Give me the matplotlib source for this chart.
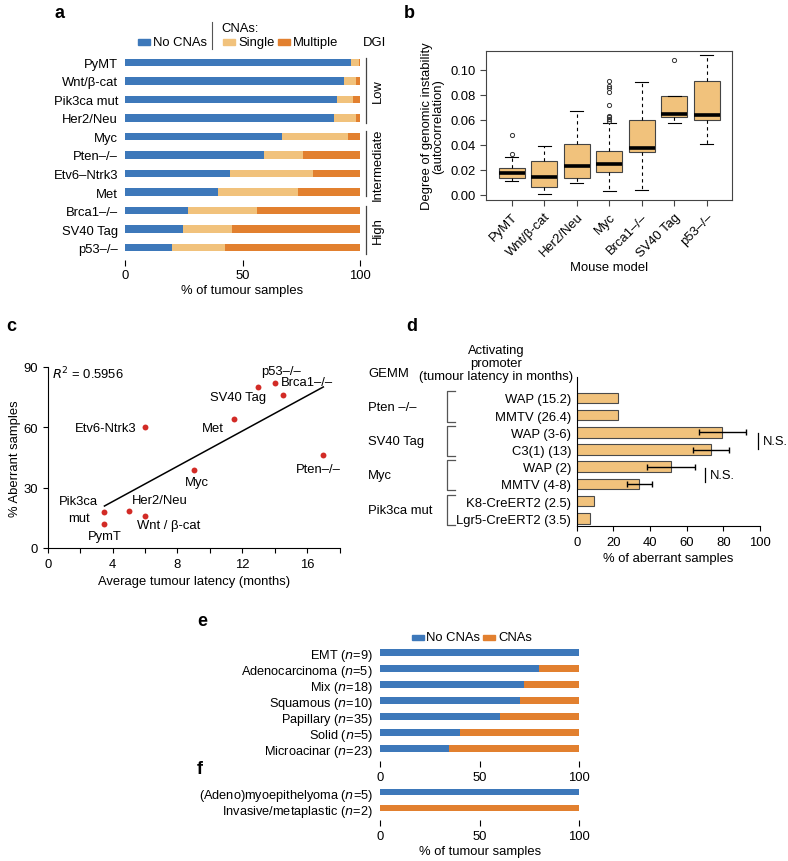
import matplotlib
matplotlib.use("Agg")
import matplotlib.pyplot as plt
import numpy as np
from matplotlib.patches import Rectangle
from matplotlib.lines import Line2D
from matplotlib.transforms import blended_transform_factory

plt.rcParams['font.family'] = ['Liberation Sans', 'DejaVu Sans']
plt.rcParams['font.size'] = 9.4
plt.rcParams['axes.linewidth'] = 0.8

# ---------------- data ----------------
# Panel a
a_models = ["PyMT", "Wnt/β-cat", "Pik3ca mut", "Her2/Neu", "Myc", "Pten–/–",
            "Etv6–Ntrk3", "Met", "Brca1–/–", "SV40 Tag", "p53–/–"]
a_none = [96, 93, 90, 89, 67, 59, 44.5, 39.5, 26.7, 24.8, 20]
a_single = [3.5, 5.3, 6.9, 9.3, 27.8, 16.6, 35.5, 34.3, 29.3, 20.9, 22.6]
a_multiple = [0.5, 1.7, 3.1, 1.7, 5.2, 24.4, 20, 26.2, 44, 54.3, 57.4]
a_ticks = [0, 50, 100]
dgi_groups = ["Low", "Intermediate", "High"]

# Panel b (box statistics: whisker low, q1, median, q3, whisker high, outliers)
b_models = ["PyMT", "Wnt/β-cat", "Her2/Neu", "Myc", "Brca1–/–", "SV40 Tag", "p53–/–"]
b_wlo = [0.011, 0.0003, 0.0097, 0.0027, 0.004, 0.0572, 0.0404]
b_q1 = [0.0137, 0.0062, 0.0137, 0.0182, 0.0338, 0.0626, 0.0599]
b_med = [0.0174, 0.0142, 0.023, 0.0249, 0.0373, 0.0647, 0.0637]
b_q3 = [0.0212, 0.0268, 0.0402, 0.0349, 0.0598, 0.0794, 0.0912]
b_whi = [0.0303, 0.0386, 0.067, 0.0571, 0.0906, 0.0794, 0.1115]
b_out = [[0.0324, 0.048], [], [], [0.0593, 0.0606, 0.062, 0.0633, 0.0718, 0.0826,
                                  0.0855, 0.0869, 0.0914], [], [0.108], []]
b_yticks = [0.00, 0.02, 0.04, 0.06, 0.08, 0.10]

# Panel c
c_names = ["PymT", "Pik3ca\nmut", "Her2/Neu", "Wnt / β-cat", "Etv6-Ntrk3", "Myc",
           "Met", "SV40 Tag", "p53–/–", "Brca1–/–", "Pten–/–"]
c_latency = [3.5, 3.5, 5.0, 6.0, 6.0, 9.0, 11.5, 13.0, 14.0, 14.5, 17.0]
c_aberrant = [12.0, 17.7, 18.5, 16.0, 60.2, 38.8, 64.2, 79.9, 82.0, 75.9, 46.4]

# Panel d
d_promoters = ["WAP (15.2)", "MMTV (26.4)", "WAP (3-6)", "C3(1) (13)", "WAP (2)",
               "MMTV (4-8)", "K8-CreERT2 (2.5)", "Lgr5-CreERT2 (3.5)"]
d_values = [22.7, 22.7, 79.5, 73.3, 51.5, 34.2, 9.5, 7.5]
d_err = [0, 0, 13, 10, 13, 7, 0, 0]
d_gemm = ["Pten –/–", "SV40 Tag", "Myc", "Pik3ca mut"]
d_ticks = [0, 20, 40, 60, 80, 100]

# Panel e
e_types = ["EMT (n=9)", "Adenocarcinoma (n=5)", "Mix (n=18)", "Squamous (n=10)",
           "Papillary (n=35)", "Solid (n=5)", "Microacinar (n=23)"]
e_none = [100, 80, 72.2, 70, 60, 40, 34.8]
e_cna = [0, 20, 27.8, 30, 40, 60, 65.2]

# Panel f
f_types = ["(Adeno)myoepithelyoma (n=5)", "Invasive/metaplastic (n=2)"]
f_none = [100, 0]
f_cna = [0, 100]

# ---------------- style ----------------
BLUE = "#3d78ba"
LIGHT = "#f1c27c"
DARK = "#e2802f"
RED = "#d22b26"
W, H = 788, 862

fig = plt.figure(figsize=(W / 100, H / 100), dpi=100)

def add_ax(l, t, r, b):
    return fig.add_axes([l / W, 1 - b / H, (r - l) / W, (b - t) / H])

# overlay in pixel coordinates for annotations
ov = fig.add_axes([0, 0, 1, 1], zorder=10)
ov.set_xlim(0, W)
ov.set_ylim(H, 0)
ov.axis("off")
ov.patch.set_alpha(0)

def ital_n(label):
    return label.replace("(n=", r"($\it{n}$=")

# ---------------- panel a ----------------
axa = add_ax(125, 54, 360, 258)
ya = np.arange(len(a_models))
none_a = np.array(a_none); single_a = np.array(a_single); mult_a = np.array(a_multiple)
axa.barh(ya, none_a, height=0.4, color=BLUE)
axa.barh(ya, single_a, left=none_a, height=0.4, color=LIGHT)
axa.barh(ya, mult_a, left=none_a + single_a, height=0.4, color=DARK)
axa.set_xlim(0, 100)
axa.set_ylim(len(a_models) - 0.5, -0.5)
axa.set_yticks(ya)
axa.set_yticklabels(a_models)
axa.set_xticks(a_ticks)
for s in axa.spines.values():
    s.set_visible(False)
axa.tick_params(axis="y", length=0, pad=5)
axa.tick_params(axis="x", length=4, width=0.8, pad=3, direction="out")
axa.set_xlabel("% of tumour samples", labelpad=2)
axa.spines["bottom"].set_position(("outward", 2))

# legend a
ov.add_patch(Rectangle((138, 40), 12, 6, color=BLUE))
ov.text(153, 43, "No CNAs", va="center", ha="left")
ov.add_line(Line2D([212, 212], [23, 50], color="#555555", lw=0.8))
ov.text(221, 29, "CNAs:", va="center", ha="left")
ov.add_patch(Rectangle((223, 40), 12, 6, color=LIGHT))
ov.text(238, 43, "Single", va="center", ha="left")
ov.add_patch(Rectangle((278, 40), 12, 6, color=DARK))
ov.text(293, 43, "Multiple", va="center", ha="left")
ov.text(363, 43, "DGI", va="center", ha="left")
for (y0, y1, lab) in [(59, 124, "Low"), (132, 197, "Intermediate"), (207, 255, "High")]:
    ov.add_line(Line2D([366, 366], [y0, y1], color="#444444", lw=0.9))
    ov.text(378, (y0 + y1) / 2, lab, rotation=90, va="center", ha="center")

# ---------------- panel b ----------------
axb = add_ax(486, 52, 732, 201)
stats = []
for i in range(len(b_models)):
    stats.append(dict(med=b_med[i], q1=b_q1[i], q3=b_q3[i], whislo=b_wlo[i],
                      whishi=b_whi[i], fliers=b_out[i], label=b_models[i]))
axb.bxp(stats, positions=np.arange(1, len(b_models) + 1), widths=0.8,
        patch_artist=True, capwidths=0.4,
        boxprops=dict(facecolor=LIGHT, edgecolor="#444444", lw=0.8),
        medianprops=dict(color="black", lw=2.6),
        whiskerprops=dict(color="black", lw=0.8, linestyle=(0, (3, 3))),
        capprops=dict(color="black", lw=0.8),
        flierprops=dict(marker="o", markersize=3.0, markerfacecolor="none",
                        markeredgecolor="#333333", markeredgewidth=0.7))
axb.set_xlim(0.2, 7.78)
axb.set_ylim(-0.0043, 0.1151)
axb.set_yticks(b_yticks)
axb.set_yticklabels([f"{v:.2f}" for v in b_yticks])
axb.set_xticks(np.arange(1, len(b_models) + 1))
axb.set_xticklabels(b_models, rotation=45, ha="right", rotation_mode="anchor")
axb.tick_params(length=4, width=0.8, color="#444444")
for s in axb.spines.values():
    s.set_color("#444444")
axb.set_ylabel("Degree of genomic instability\n(autocorrelation)", labelpad=4,
               linespacing=1.0)
axb.set_xlabel("Mouse model", labelpad=2)

# ---------------- panel c ----------------
axc = add_ax(47.7, 367.7, 339.5, 549)
axc.scatter(c_latency, c_aberrant, s=18, color=RED, zorder=3, linewidths=0)
slope, inter = np.polyfit(c_latency, c_aberrant, 1)
xl = np.array([min(c_latency), max(c_latency)])
axc.plot(xl, slope * xl + inter, color="black", lw=1.1)
axc.set_xlim(0, 18)
axc.set_ylim(0, 90)
axc.set_xticks([0, 4, 8, 12, 16])
axc.set_xticks([2, 6, 10, 14, 18], minor=True)
axc.set_yticks([0, 30, 60, 90])
axc.tick_params(which="both", length=3.5, width=0.8)
axc.spines["top"].set_visible(False)
axc.spines["right"].set_visible(False)
axc.set_xlabel("Average tumour latency (months)", labelpad=4)
axc.set_ylabel("% Aberrant samples", labelpad=2)
c_lab_pos = {
    "PymT": (3.53, 5.9, "center"), "Pik3ca\nmut": (1.9, 19.0, "center"),
    "Her2/Neu": (6.94, 23.8, "center"), "Wnt / β-cat": (7.43, 11.6, "center"),
    "Etv6-Ntrk3": (5.5, 59.4, "right"), "Myc": (9.18, 33.0, "center"),
    "Met": (10.2, 59.4, "center"), "SV40 Tag": (11.75, 75.2, "center"),
    "p53–/–": (14.4, 88.0, "center"), "Brca1–/–": (14.4, 82.2, "left"),
    "Pten–/–": (16.7, 39.3, "center"),
}
for n in c_names:
    x, y, ha = c_lab_pos[n]
    ls = 1.5 if "\n" in n else 1.2
    axc.text(x, y, n, ha=ha, va="center", linespacing=ls, clip_on=False)
axc.text(0.25, 86.8, r"$\it{R}^2$ = 0.5956", ha="left", va="center")

# ---------------- panel d ----------------
axd = add_ax(576.7, 378, 760, 527)
yd = np.arange(len(d_promoters))
axd.barh(yd, d_values, height=0.62, color=LIGHT, edgecolor="#4a4a4a", lw=0.8)
for i in range(len(yd)):
    if d_err[i] > 0:
        axd.errorbar(d_values[i], yd[i], xerr=d_err[i], fmt="none", ecolor="black",
                     elinewidth=1.0, capsize=2.5, capthick=1.0)
axd.set_xlim(0, 100)
axd.set_ylim(len(d_promoters) - 0.55, -1.22)
axd.set_yticks(yd)
axd.set_yticklabels(d_promoters)
axd.set_xticks(d_ticks)
axd.spines["top"].set_visible(False)
axd.spines["right"].set_visible(False)
axd.tick_params(axis="y", length=0, pad=4)
axd.tick_params(axis="x", length=3.5, width=0.8)
axd.set_xlabel("% of aberrant samples", labelpad=3)
axd.plot([98.7, 98.7], [2.05, 2.95], color="black", lw=0.9, clip_on=False)
axd.text(101.5, 2.5, "N.S.", ha="left", va="center", clip_on=False)
axd.plot([70, 70], [4.1, 4.9], color="black", lw=0.9, clip_on=False)
axd.text(72.5, 4.5, "N.S.", ha="left", va="center", clip_on=False)
tb = blended_transform_factory(ov.transData, axd.transData)
for g, name in enumerate(d_gemm):
    y0, y1 = 2 * g - 0.38, 2 * g + 1 + 0.38
    axd.add_line(Line2D([455, 447, 447, 455], [y0, y0, y1, y1], transform=tb,
                        color="#555555", lw=0.9, clip_on=False))
    axd.text(368, 2 * g + 0.5, name, transform=tb, ha="left", va="center",
             clip_on=False)
ov.text(368, 374, "GEMM", ha="left", va="center")
ov.text(496, 364, "Activating\npromoter\n(tumour latency in months)",
        ha="center", va="center", linespacing=1.15)

# ---------------- panel e ----------------
axe = add_ax(380, 645.3, 579.3, 758)
ye = np.arange(len(e_types))
axe.barh(ye, e_none, height=0.42, color=BLUE)
axe.barh(ye, e_cna, left=e_none, height=0.42, color=DARK)
axe.set_xlim(0, 100)
axe.set_ylim(len(e_types) - 0.5 + 0.05, -0.5)
axe.set_yticks(ye)
axe.set_yticklabels([ital_n(t) for t in e_types], fontsize=9.2)
axe.set_xticks([0, 50, 100])
for s in axe.spines.values():
    s.set_visible(False)
axe.tick_params(axis="y", length=0, pad=5)
axe.tick_params(axis="x", length=4, width=0.8, pad=3)
axe.spines["bottom"].set_position(("outward", 3))
ov.add_patch(Rectangle((412, 635.5), 12, 5.5, color=BLUE))
ov.text(426, 638.3, "No CNAs", ha="left", va="center")
ov.add_patch(Rectangle((483, 635.5), 12, 5.5, color=DARK))
ov.text(498, 638.3, "CNAs", ha="left", va="center")

# ---------------- panel f ----------------
axf = add_ax(380, 785, 579.3, 817)
yf = np.arange(len(f_types))
axf.barh(yf, f_none, height=0.42, color=BLUE)
axf.barh(yf, f_cna, left=f_none, height=0.42, color=DARK)
axf.set_xlim(0, 100)
axf.set_ylim(len(f_types) - 0.5, -0.5)
axf.set_yticks(yf)
axf.set_yticklabels([ital_n(t) for t in f_types], fontsize=9.2)
axf.set_xticks([0, 50, 100])
for s in axf.spines.values():
    s.set_visible(False)
axf.tick_params(axis="y", length=0, pad=5)
axf.tick_params(axis="x", length=4, width=0.8, pad=3)
axf.spines["bottom"].set_position(("outward", 3))
axf.set_xlabel("% of tumour samples", labelpad=2)

# ---------------- panel letters ----------------
for (x, y, L) in [(55, 13, "a"), (404, 13, "b"), (6, 327, "c"), (406, 327, "d"),
                  (197, 622, "e"), (197, 770, "f")]:
    ov.text(x, y, L, fontsize=13, fontweight="bold", ha="left", va="center")

fig.savefig("out.png", dpi=100)
